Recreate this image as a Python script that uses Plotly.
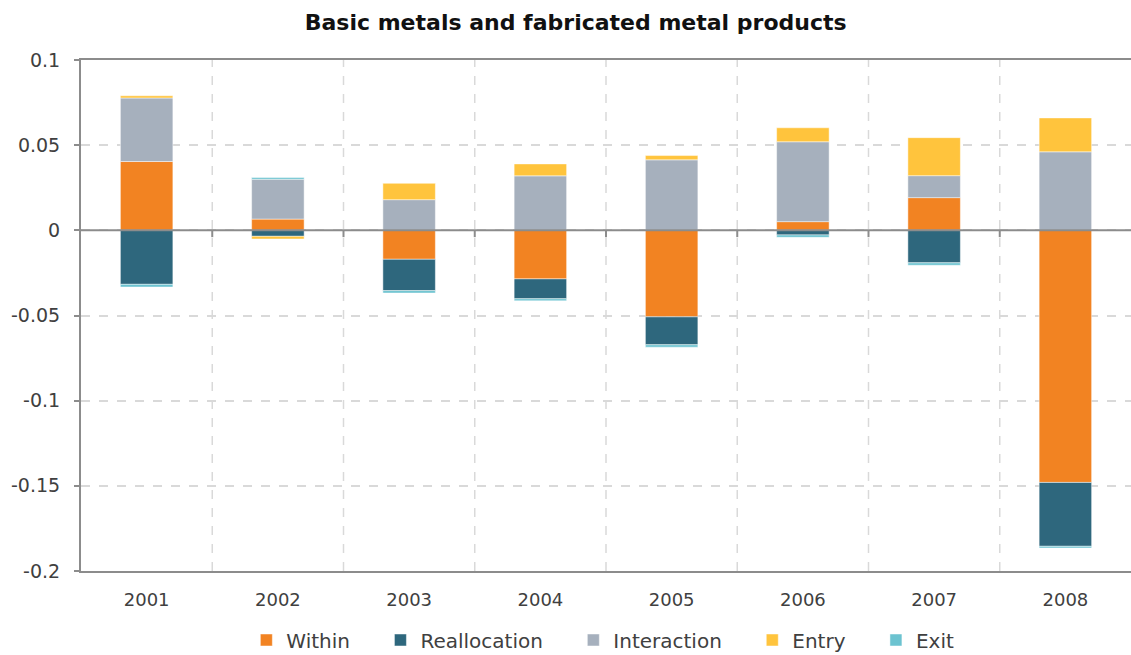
import plotly.graph_objects as go

# Decomposition of productivity growth, by year
years = ["2001", "2002", "2003", "2004", "2005", "2006", "2007", "2008"]
within = [0.0404, 0.0066, -0.0170, -0.0285, -0.0508, 0.0051, 0.0192, -0.1480]
reallocation = [-0.0317, -0.0035, -0.0184, -0.0117, -0.0164, -0.0027, -0.0191, -0.0375]
interaction = [0.0373, 0.0234, 0.0180, 0.0320, 0.0414, 0.0469, 0.0129, 0.0461]
entry = [0.0013, -0.0016, 0.0096, 0.0070, 0.0025, 0.0082, 0.0223, 0.0199]
exit_ = [-0.0016, 0.0010, -0.0014, -0.0012, -0.0014, -0.0014, -0.0014, -0.0010]

y_ticks = [0.1, 0.05, 0, -0.05, -0.1, -0.15, -0.2]
y_tick_text = ["0.1", "0.05", "0", "-0.05", "-0.1", "-0.15", "-0.2"]

series = [
    ("Within", within, "#F28322"),
    ("Reallocation", reallocation, "#2E677D"),
    ("Interaction", interaction, "#A6B0BD"),
    ("Entry", entry, "#FFC43D"),
    ("Exit", exit_, "#6CC3D0"),
]

FONT = "DejaVu Sans"
AXIS_GREY = "#8c8c8c"
GRID_GREY = "#d9d9d9"
TEXT_GREY = "#404040"
PAD = "\u00a0" * 4  # extra room after each legend label

fig = go.Figure()
for k, (name, vals, color) in enumerate(series):
    label = name if k == len(series) - 1 else name + PAD
    fig.add_bar(
        x=years, y=vals, name=label,
        marker=dict(color=color, line=dict(color="rgba(255,255,255,0.6)", width=0.8)),
        width=0.4,
    )

shapes = []
# dashed separators between year categories
for i in range(1, len(years)):
    shapes.append(dict(type="line", xref="x", yref="paper", x0=i - 0.5, x1=i - 0.5,
                       y0=0, y1=1, line=dict(color=GRID_GREY, width=1.5, dash="dash"),
                       layer="below"))
# zero line over the bars
shapes.append(dict(type="line", xref="paper", yref="y", x0=0, x1=1, y0=0, y1=0,
                   line=dict(color=AXIS_GREY, width=2), layer="above"))
# small category ticks on the zero line
for i in range(1, len(years)):
    shapes.append(dict(type="line", xref="x", yref="y", x0=i - 0.5, x1=i - 0.5,
                       y0=0, y1=-0.004, line=dict(color=AXIS_GREY, width=2), layer="above"))

fig.update_layout(
    width=1131, height=655,
    margin=dict(l=81, r=0, t=60, b=84, autoexpand=False),
    paper_bgcolor="white", plot_bgcolor="white",
    barmode="relative",
    title=dict(text="<b>Basic metals and fabricated metal products</b>",
               x=0.509, xanchor="center", xref="container", y=0.966, yanchor="middle",
               font=dict(family=FONT, size=22, color="#111111")),
    font=dict(family=FONT, size=18, color=TEXT_GREY),
    showlegend=True,
    legend=dict(orientation="h", x=0.497, xanchor="center", y=-0.135, yanchor="middle",
                font=dict(family=FONT, size=20, color=TEXT_GREY),
                traceorder="normal", itemwidth=30,
                bgcolor="rgba(0,0,0,0)"),
    shapes=shapes,
)

fig.update_xaxes(
    type="category", showgrid=False, zeroline=False,
    showline=True, linecolor=AXIS_GREY, linewidth=2, mirror=True,
    ticks="", ticklabelstandoff=11,
    tickfont=dict(family=FONT, size=18, color=TEXT_GREY),
    range=[-0.5, len(years) - 0.5],
)
fig.update_yaxes(
    range=[-0.2, 0.1], tickvals=y_ticks, ticktext=y_tick_text,
    showgrid=True, gridcolor=GRID_GREY, griddash="dash", gridwidth=1.5,
    zeroline=False, showline=True, linecolor=AXIS_GREY, linewidth=2,
    ticks="outside", ticklen=5, tickcolor=AXIS_GREY, tickwidth=2,
    ticklabelstandoff=10,
    tickfont=dict(family=FONT, size=19, color=TEXT_GREY),
)

fig.write_html("out.html")
